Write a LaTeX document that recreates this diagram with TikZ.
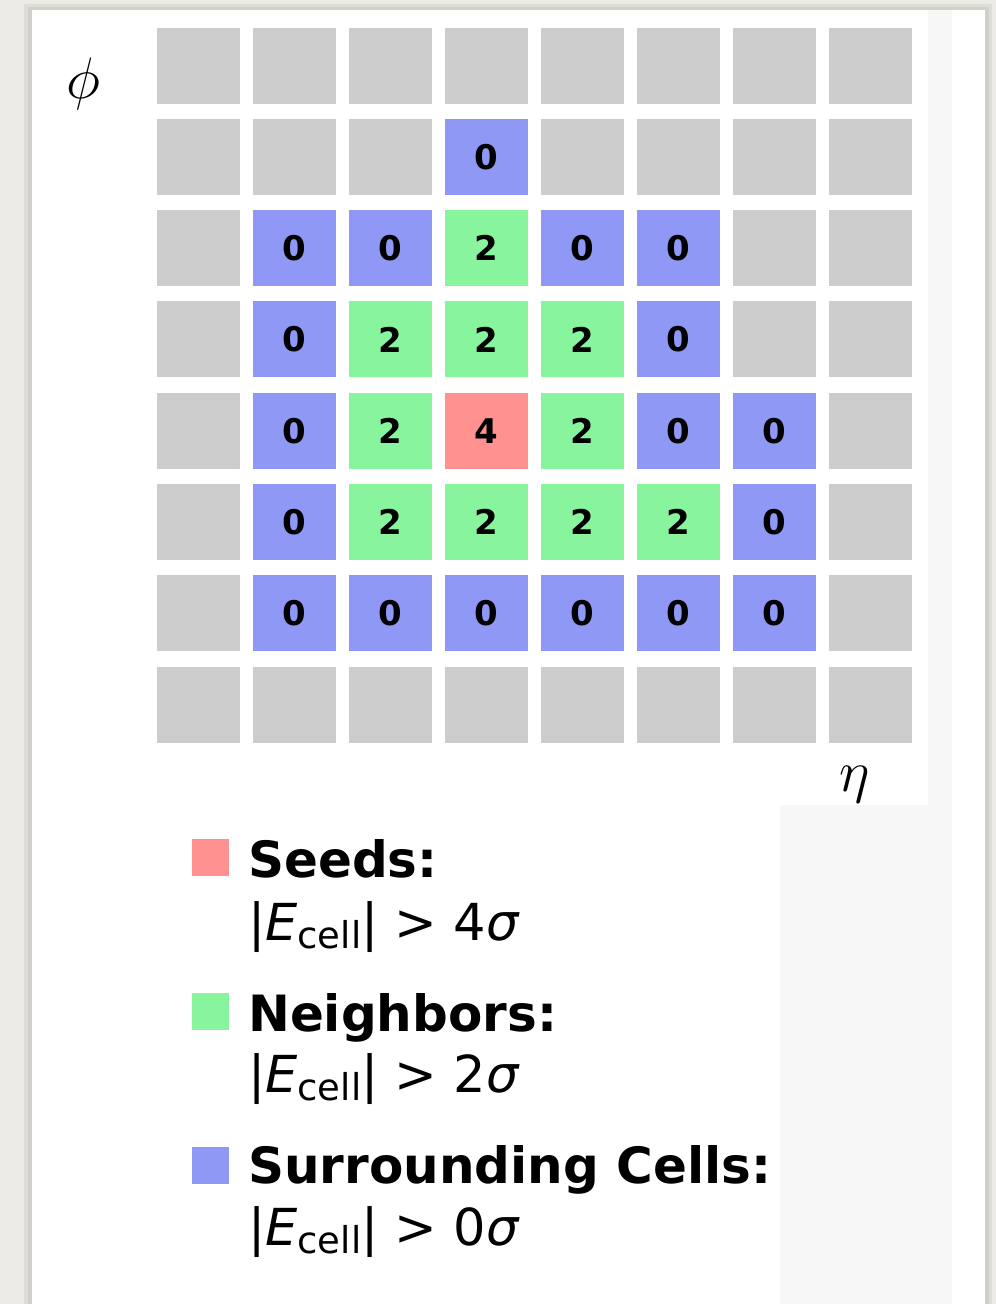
\documentclass[tikz,border=0pt]{standalone}
\usepackage{fontspec}
\setmainfont{DejaVu Sans}
\usepackage{graphicx}
\usepackage{xcolor}
\definecolor{paper}{RGB}{236,235,230}
\definecolor{offgray}{RGB}{204,204,204}
\definecolor{surblue}{RGB}{143,153,245}
\definecolor{nbrgreen}{RGB}{136,245,158}
\definecolor{seedred}{RGB}{255,145,145}
\definecolor{pale}{RGB}{247,247,247}
\usepackage{tikz}
\usetikzlibrary{positioning}

% |E_cell| > n sigma
\newcommand{\ecut}[1]{\textbar\textit{E}\raisebox{-.16em}{\fontsize{37}{37}\selectfont cell}\textbar\ > #1\textit{σ}}
% big math letter for the axes
\newcommand{\axlabel}[1]{\scalebox{2.35}{\Huge$#1$}}

\begin{document}
\begin{tikzpicture}[
  x=1pt, y=-1pt,
  cell/.style={rectangle, minimum width=83pt, minimum height=76pt, inner sep=0pt,
               font=\fontsize{34}{34}\selectfont\bfseries},
  off cell/.style={cell, fill=offgray},
  sur cell/.style={cell, fill=surblue},
  nbr cell/.style={cell, fill=nbrgreen},
  seed cell/.style={cell, fill=seedred},
  key/.style={rectangle, minimum size=37pt, inner sep=0pt},
  head/.style={anchor=base west, inner sep=0pt, font=\fontsize{50}{50}\selectfont\bfseries},
  cut/.style={anchor=base west, inner sep=0pt, font=\fontsize{51}{51}\selectfont},
  axis/.style={inner sep=0pt}
]
\useasboundingbox (0,0) rectangle (996,1304);
% paper and panel
\fill[paper] (0,0) rectangle (996,1304);
\fill[black, opacity=.06] (24,4) rectangle (992,1304);
\fill[black, opacity=.06] (28,7) rectangle (989,1304);
\fill[white] (32,10) rectangle (985,1304);
\fill[pale] (928,10) rectangle (952,805) -- (952,1304) -- (780,1304) -- (780,805) -- (928,805) -- cycle;
\fill[white] (32,10) rectangle (928,805);

% grid of cells, rows from top
\foreach \row [count=\r from 0] in {
  {off/,off/,off/,off/,off/,off/,off/,off/},
  {off/,off/,off/,sur/0,off/,off/,off/,off/},
  {off/,sur/0,sur/0,nbr/2,sur/0,sur/0,off/,off/},
  {off/,sur/0,nbr/2,nbr/2,nbr/2,sur/0,off/,off/},
  {off/,sur/0,nbr/2,seed/4,nbr/2,sur/0,sur/0,off/},
  {off/,sur/0,nbr/2,nbr/2,nbr/2,nbr/2,sur/0,off/},
  {off/,sur/0,sur/0,sur/0,sur/0,sur/0,sur/0,off/},
  {off/,off/,off/,off/,off/,off/,off/,off/}} {
  \foreach \k/\v [count=\c from 0] in \row {
    \node[\k\space cell] (c\r\c) at (198.5+96*\c, 65.5+91.3*\r) {\v};
  }
}

\node[axis] (phi) at (83,84) {\axlabel{\phi}};
\node[axis] (eta) at (855,785) {\axlabel{\eta}};

% legend
\node[key, fill=seedred]  (kseed) at (210.5,857.5) {};
\node[key, fill=nbrgreen] (knbr)  at (210.5,1011) {};
\node[key, fill=surblue]  (ksur)  at (210.5,1165) {};

\node[head] (tseed) at (248,877) {Seeds:};
\node[cut]  (cseed) at (248,940) {\ecut{4}};
\node[head] (tnbr)  at (248,1031) {Neighbors:};
\node[cut]  (cnbr)  at (248,1092) {\ecut{2}};
\node[head] (tsur)  at (248,1183) {Surrounding Cells:};
\node[cut]  (csur)  at (248,1245) {\ecut{0}};
\end{tikzpicture}
\end{document}
